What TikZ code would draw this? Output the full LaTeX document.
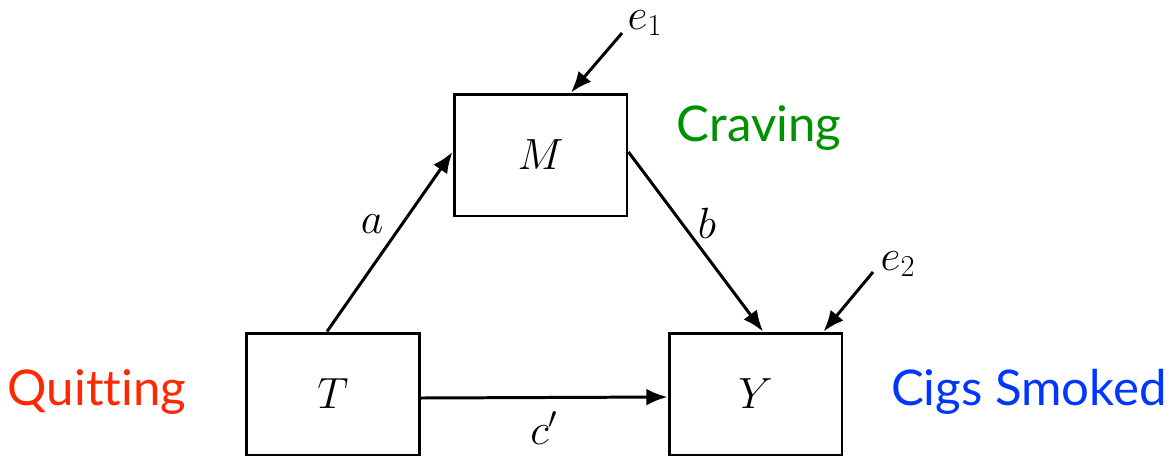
\documentclass[tikz,border=0pt]{standalone}
\usepackage{fontspec}
\setsansfont{Lato}[Ligatures=NoCommon]
\usetikzlibrary{arrows.meta}
\definecolor{rougeq}{RGB}{255,40,0}
\definecolor{vertc}{RGB}{0,145,0}
\definecolor{bleuc}{RGB}{0,55,255}
\begin{document}
\begin{tikzpicture}[
    x=0.02cm, y=-0.02cm,     % On travaille en pixels
    % Les boîtes des variables
    boite/.style={draw, line width=1.7pt, minimum width=3.46cm, minimum height=2.44cm,
                  inner sep=0pt, font=\fontsize{25}{30}\selectfont},
    fleche/.style={-{Latex[length=12pt, width=9.5pt]}, line width=1.7pt}, % Flèches pleines
    lettre/.style={inner sep=1pt, font=\fontsize{25}{30}\selectfont},
    legende/.style={font=\sffamily\fontsize{28}{32}\selectfont}
]
\useasboundingbox (0,0) rectangle (1175,457);
% Boîtes
\node[boite] (M) at (540.5,155) {$M$};
\node[boite] (T) at (333,394) {$T$};
\node[boite] (Y) at (755.5,394) {$Y$};
% Erreurs
\node[lettre] (e1) at (645,23) {$e_1$};
\node[lettre] (e2) at (898,264) {$e_2$};
\coordinate (e1q) at (622,33);
\coordinate (e2q) at (873,272);
% Légendes
\node[legende, text=rougeq] (quit) at (97,392) {Quitting};
\node[legende, text=vertc] (crav) at (759,128) {Craving};
\node[legende, text=bleuc] (cigs) at (1029,392) {Cigs Smoked};
% Chemins
\draw[fleche] ([xshift=-0.12cm]T.north) -- ([yshift=0.06cm]M.west)
    node[lettre, pos=0.6, left=9pt] {$a$};
\draw[fleche] ([yshift=0.06cm]M.east) -- ([xshift=0.15cm]Y.north)
    node[lettre, pos=0.4, right=7pt] {$b$};
\draw[fleche] ([yshift=-0.08cm]T.east) -- ([yshift=-0.06cm]Y.west)
    node[lettre, midway, below=6pt] {$c'$};
\draw[fleche] (e1q) -- ([xshift=0.61cm]M.north);
\draw[fleche] (e2q) -- ([xshift=-0.4cm]Y.north east);
\end{tikzpicture}
\end{document}
